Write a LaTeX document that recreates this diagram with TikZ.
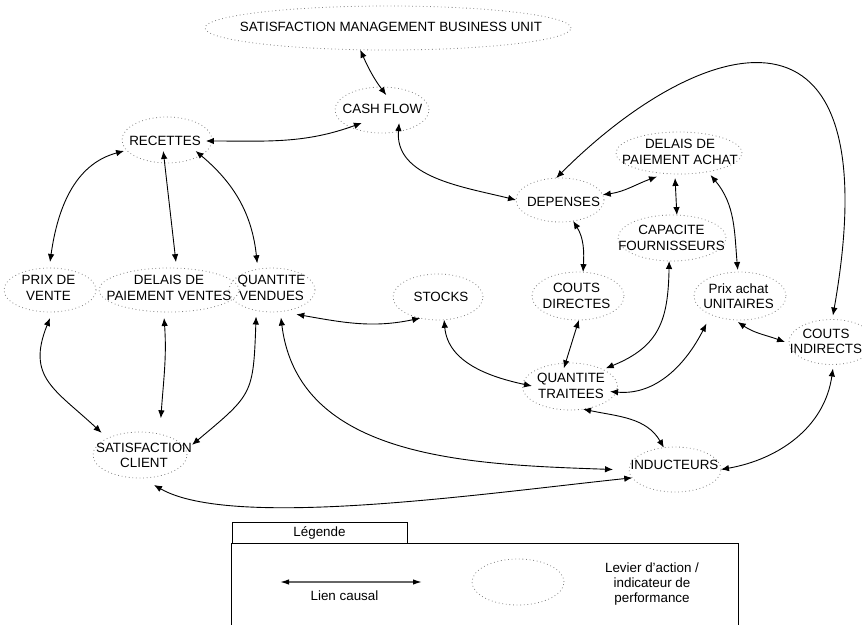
\documentclass[tikz,border=0pt]{standalone}
\usepackage{fontspec}
\setmainfont{Liberation Sans}
\usetikzlibrary{arrows.meta,shapes.geometric}

\tikzset{
  lever/.style={ellipse,draw=black!50,dash pattern=on 0.8pt off 2.8pt,line width=0.8pt,inner sep=0pt,outer sep=0pt},
  lvtext/.style={align=center,inner sep=5pt},
  link/.style={{Latex[length=8pt,width=6.5pt]}-{Latex[length=8pt,width=6.5pt]},line width=0.9pt},
}

\begin{document}
\begin{tikzpicture}[x=1pt,y=-1pt,font=\fontsize{13.4}{15.5}\selectfont]
\useasboundingbox (0,0) rectangle (862,624);
\clip (0,0) rectangle (862,624);

% leviers d'action / indicateurs
\node[lever,minimum width=366pt,minimum height=44pt] (smbu-o) at (388,28) {};
\node[lvtext] (smbu) at (391,27) {SATISFACTION MANAGEMENT BUSINESS UNIT};
\node[lever,minimum width=94pt,minimum height=46pt] (cash-o) at (382,110) {};
\node[lvtext,inner ysep=9pt] (cash) at (382.5,109) {CASH FLOW};
\node[lever,minimum width=90pt,minimum height=46pt] (rec-o) at (167,140) {};
\node[lvtext] (rec) at (165,141) {RECETTES};
\node[lever,minimum width=92pt,minimum height=44pt,outer sep=6pt] (pdv-o) at (50,290) {};
\node[lvtext] (pdv) at (48.5,288) {PRIX DE\\VENTE};
\node[lever,minimum width=140pt,minimum height=44pt,outer sep=6pt] (dpv-o) at (169,290) {};
\node[lvtext] (dpv) at (169,288) {DELAIS DE\\PAIEMENT VENTES};
\node[lever,minimum width=86pt,minimum height=44pt,outer sep=6pt] (qv-o) at (272,290) {};
\node[lvtext] (qv) at (271.5,288) {QUANTITE\\VENDUES};
\node[lever,minimum width=90pt,minimum height=46pt] (stk-o) at (438,297) {};
\node[lvtext] (stk) at (441,297) {STOCKS};
\node[lever,minimum width=88pt,minimum height=44pt] (dep-o) at (560,200) {};
\node[lvtext] (dep) at (563.5,201.5) {DEPENSES};
\node[lever,minimum width=126pt,minimum height=42pt,outer sep=4pt] (dpa-o) at (679,153) {};
\node[lvtext] (dpa) at (680,152) {DELAIS DE\\PAIEMENT ACHAT};
\node[lever,minimum width=108pt,minimum height=46pt] (cap-o) at (672,238) {};
\node[lvtext] (cap) at (671.5,238) {CAPACITE\\FOURNISSEURS};
\node[lever,minimum width=92pt,minimum height=48pt] (cd-o) at (578,296) {};
\node[lvtext] (cd) at (576.5,296) {COUTS\\DIRECTES};
\node[lever,minimum width=92pt,minimum height=48pt,outer sep=2pt] (pau-o) at (740,296) {};
\node[lvtext] (pau) at (738.5,296) {Prix achat\\UNITAIRES};
\node[lever,minimum width=86pt,minimum height=45pt,outer sep=4pt] (ci-o) at (832,342) {};
\node[lvtext] (ci) at (826,341.5) {COUTS\\INDIRECTS};
\node[lever,minimum width=95pt,minimum height=47pt] (qt-o) at (570,386.5) {};
\node[lvtext] (qt) at (571,386) {QUANTITE\\TRAITEES};
\node[lever,minimum width=92pt,minimum height=45pt] (ind-o) at (675,469.5) {};
\node[lvtext] (ind) at (674.5,465) {INDUCTEURS};
\node[lever,minimum width=94pt,minimum height=46pt,outer sep=8pt] (sat-o) at (140,455) {};
\node[lvtext] (sat) at (144,455.5) {SATISFACTION\\CLIENT};

% liens causaux
\draw[link] (smbu-o.-142) to[out=-66,in=127] (cash.75);
\draw[link] (rec.east) to[out=0,in=-160] (cash.-146);
\draw[link] (cash.-40) to[out=-95,in=166] (dep-o.west);
\draw[link] (rec.south west) to[out=195,in=82] (pdv-o.north);
\draw[link] (rec.-100) -- (dpv-o.76);
\draw[link] (rec.-18) to[out=-40,in=96] (qv-o.119);
\draw[link] (pdv-o.south) to[out=-112,in=137,looseness=1.3] (sat-o.150);
\draw[link] (dpv-o.-100) to[out=-86,in=86] ([yshift=8pt]sat-o.54);
\draw[link] (qv-o.-121) to[out=-92,in=40,looseness=1.4] (sat-o.11);
\draw[link] (qv-o.-45) to[out=-10,in=-168] (stk-o.-130);
\draw[link] (qv-o.-72) to[out=-83,in=178] ([xshift=-16pt]ind-o.west);
\draw[link] (sat-o.-65) to[out=-30,in=-174,out distance=90pt,in distance=150pt] (ind-o.-169);
\draw[link] (stk-o.-75) to[out=-85,in=168] (qt.west);
\draw[link] (dep-o.7) to[out=8,in=-160] (dpa-o.-133);
\draw[link] (dep-o.-58) to[out=-58,in=87] (cd-o.78);
\draw[link] (dpa-o.-99) -- (cap-o.78);
\draw[link] (dpa-o.-35) to[out=-50,in=95] (pau-o.95);
\draw[link] (dep-o.100) to[out=45,in=80,out distance=205pt,in distance=344pt] (ci-o.88);
\draw[link] (cd-o.-88) -- (qt.112);
\draw[link] (cap-o.-97) to[out=-91,in=22,looseness=1.2] (qt.27);
\draw[link] ([yshift=-9pt]pau-o.-151) to[out=-117,in=-5] (qt.-8);
\draw[link] (pau-o.-95) to[out=-34,in=160] (ci-o.west);
\draw[link] (qt-o.-60) to[out=-12,in=120] (ind-o.117);
\draw[link] (ci-o.-88) to[out=-98,in=10] (ind-o.east);

% legende
\node[draw,line width=0.8pt,minimum width=175pt,minimum height=21pt,inner sep=0pt] (lg-tab) at (319.5,532.5) {Légende};
\draw[line width=0.8pt] (lg-tab.south west) rectangle (738,640);
\coordinate (lg-a) at (280,582);
\coordinate (lg-b) at (422,582);
\draw[{Latex[length=9pt,width=5.5pt,color=black]}-{Latex[length=9pt,width=5.5pt,color=black]},draw=black!60,line width=1.4pt] (lg-a) -- (lg-b);
\node (lg-l) at (344.5,596) {Lien causal};
\node[lever,minimum width=92pt,minimum height=46pt] (lg-o) at (518,582) {};
\node[align=center,font=\fontsize{13.4}{15}\selectfont] (lg-t) at (652,584) {Levier d’action /\\indicateur de\\performance};
\end{tikzpicture}
\end{document}
